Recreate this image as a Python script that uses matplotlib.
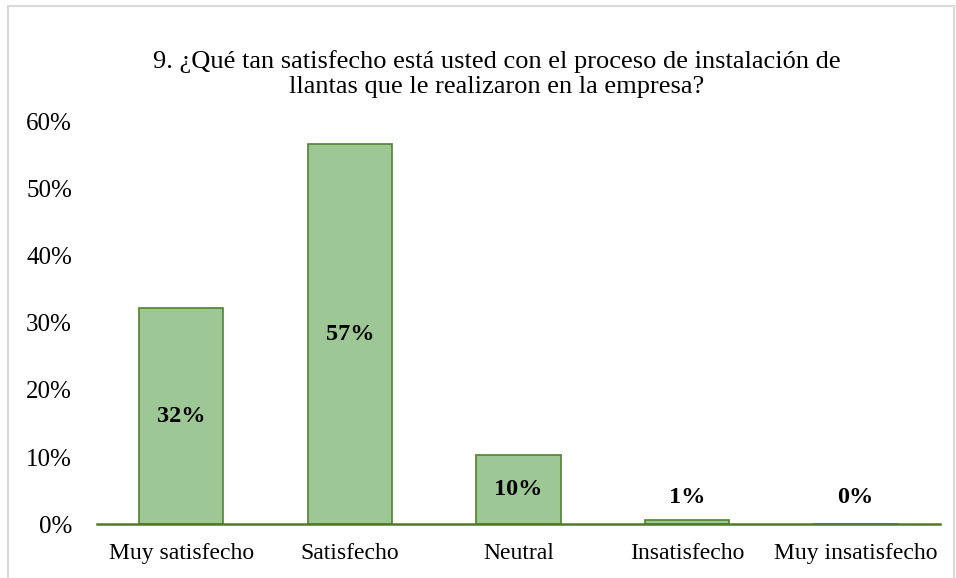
import matplotlib.pyplot as plt
from matplotlib.patches import Rectangle
from matplotlib.ticker import PercentFormatter

# respuestas de la pregunta 9
categorias = ['Muy satisfecho', 'Satisfecho', 'Neutral', 'Insatisfecho', 'Muy insatisfecho']
porcentajes = [0.322, 0.567, 0.103, 0.006, 0.0]
ticks_y = [0, 0.1, 0.2, 0.3, 0.4, 0.5, 0.6]

titulo = ('9. ¿Qué tan satisfecho está usted con el proceso de instalación de\n'
          'llantas que le realizaron en la empresa?')

plt.rcParams['font.family'] = ['Liberation Serif', 'DejaVu Serif']

fig = plt.figure(figsize=(9.56, 5.78), dpi=100)
ax = fig.add_axes([0.1015, 0.0934, 0.8815, 0.6956])

# marco gris del grafico
fig.patches.append(Rectangle((8 / 956, -0.01), 946 / 956, 1 - 6 / 578 + 0.01,
                             transform=fig.transFigure, fill=False,
                             edgecolor='#d9d9d9', linewidth=1.5))

x = range(len(categorias))
ax.bar(x, porcentajes, width=0.5, color='#9dc896', edgecolor='#52802f', linewidth=1.2)

for i, v in enumerate(porcentajes):
    y = v / 2 if v > 0.05 else 0.039
    ax.text(i, y, '{:.0%}'.format(v), ha='center', va='center',
            fontsize=17.5, fontweight='bold')

ax.set_xlim(-0.5, len(categorias) - 0.5)
ax.set_ylim(0, 0.6)
ax.set_yticks(ticks_y)
ax.yaxis.set_major_formatter(PercentFormatter(1.0, decimals=0))
ax.set_xticks(list(x))
ax.set_xticklabels(categorias)
ax.tick_params(axis='y', length=0, pad=18, labelsize=18)
ax.tick_params(axis='x', length=0, pad=14, labelsize=17)

for s in ['top', 'right', 'left']:
    ax.spines[s].set_visible(False)
ax.spines['bottom'].set_color('#4f7a28')
ax.spines['bottom'].set_linewidth(1.8)
ax.spines['bottom'].set_zorder(3)

fig.text(497 / 956, 1 - 74 / 578, titulo, ha='center', va='center',
         fontsize=19, linespacing=1.2)

fig.savefig('out.png', dpi=100)
